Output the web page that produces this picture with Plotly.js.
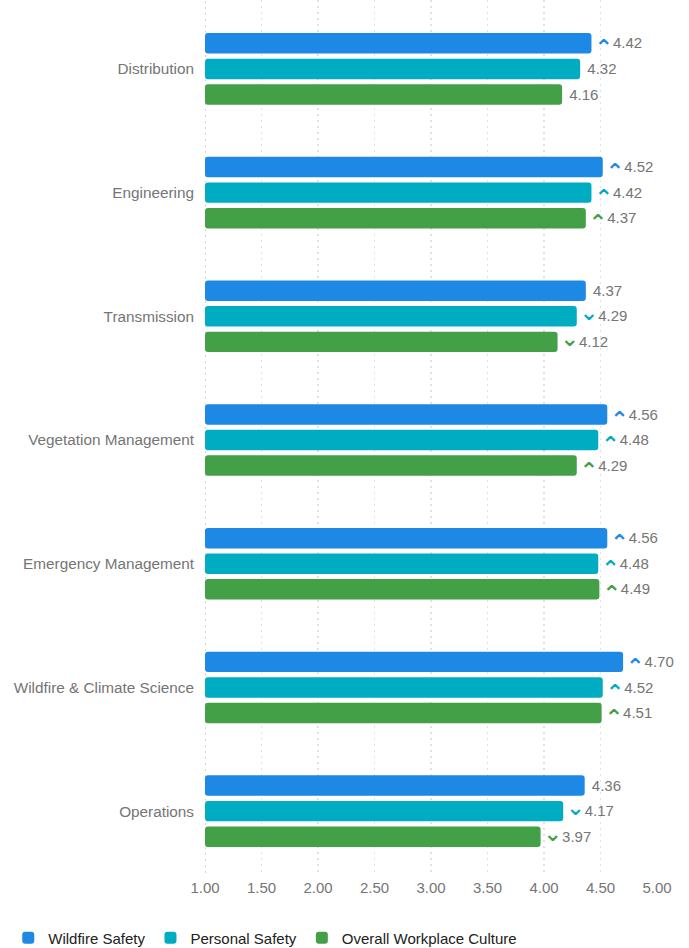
<!DOCTYPE html>
<html><head><meta charset="utf-8">
<script src="https://cdn.plot.ly/plotly-3.0.1.min.js"></script>
<style>html,body{margin:0;padding:0;background:#fff}#chart{width:689px;height:948px}</style>
</head><body><div id="chart"></div>
<script>
const categories = ["Distribution","Engineering","Transmission","Vegetation Management","Emergency Management","Wildfire & Climate Science","Operations"];
const seriesNames = ["Wildfire Safety","Personal Safety","Overall Workplace Culture"];
const colors = ["#1e88e5","#00acc1","#43a047"];
const wildfireSafety = [4.42,4.52,4.37,4.56,4.56,4.70,4.36];
const personalSafety = [4.32,4.42,4.29,4.48,4.48,4.52,4.17];
const overallCulture = [4.16,4.37,4.12,4.29,4.49,4.51,3.97];
const wildfireTrend = ["up","up","","up","up","up",""];
const personalTrend = ["","up","down","up","up","up","down"];
const overallTrend = ["","up","down","up","up","up","down"];
const xTicks = [1,1.5,2,2.5,3,3.5,4,4.5,5];

const values = [wildfireSafety, personalSafety, overallCulture];
const trends = [wildfireTrend, personalTrend, overallTrend];

const chevStyle = 'font-family:DejaVu Sans;font-size:22px;font-weight:bold;';
const hidden = 'fill:transparent;color:transparent;fill-opacity:0;';
function chevron(t, color) {
  if (t === 'up') return ['<span style="color:' + color + ';' + chevStyle + 'baseline-shift:-7px">⌃</span>',
    '<span style="' + hidden + chevStyle + 'baseline-shift:2.2px">⌃</span>'];
  if (t === 'down') return ['<span style="color:' + color + ';' + chevStyle + 'baseline-shift:1.5px">⌄</span>',
    '<span style="' + hidden + chevStyle + 'baseline-shift:-6.3px">⌄</span>'];
  return [' ', ''];
}

const traces = values.map((vals, i) => ({
  type: 'bar', orientation: 'h', name: seriesNames[i],
  y: categories, x: vals.map(v => v - 1), base: 1,
  marker: {color: colors[i], cornerradius: 3},
  text: vals.map((v, j) => { const c = chevron(trends[i][j], colors[i]); return c[0] + v.toFixed(2) + c[1]; }),
  textposition: 'outside', cliponaxis: false, constraintext: 'none',
  textfont: {color: '#757575', size: 15, family: 'Liberation Sans, Arial, sans-serif'},
  hoverinfo: 'none'
}));

const layout = {
  width: 689, height: 948,
  margin: {l: 0, r: 0, t: 0, b: 75},
  font: {family: 'Liberation Sans, Arial, sans-serif', color: '#757575', size: 15},
  paper_bgcolor: '#fff', plot_bgcolor: '#fff',
  barmode: 'group', bargap: 0.38, bargroupgap: 0.2,
  xaxis: {range: [1, 5], domain: [205/689, 657/689], tickvals: xTicks, ticktext: xTicks.map(v => v.toFixed(2)),
    showgrid: true, gridcolor: '#e2e2e2', griddash: '2px,4px', gridwidth: 1.5,
    zeroline: false, showline: false, ticks: '', ticklabelstandoff: 4, tickfont: {size: 15, color: '#757575'}},
  yaxis: {range: [6.5, -0.557], showgrid: false, zeroline: false, showline: false, ticks: '',
    ticklabelstandoff: 10, tickfont: {size: 15.3, color: '#757575'}},
  shapes: [{type: 'line', xref: 'x', yref: 'paper', x0: 1, x1: 1, y0: 0, y1: 1,
    line: {color: '#c8c8c8', width: 1.5, dash: '2px,4px'}, layer: 'below'}],
  showlegend: true,
  legend: {orientation: 'h', xref: 'container', yref: 'container', x: 0.012, y: 0.0105,
    xanchor: 'left', yanchor: 'middle', font: {size: 15, color: '#212121'}, traceorder: 'normal'}
};

Plotly.newPlot('chart', traces, layout, {displayModeBar: false, staticPlot: true});
</script></body></html>
